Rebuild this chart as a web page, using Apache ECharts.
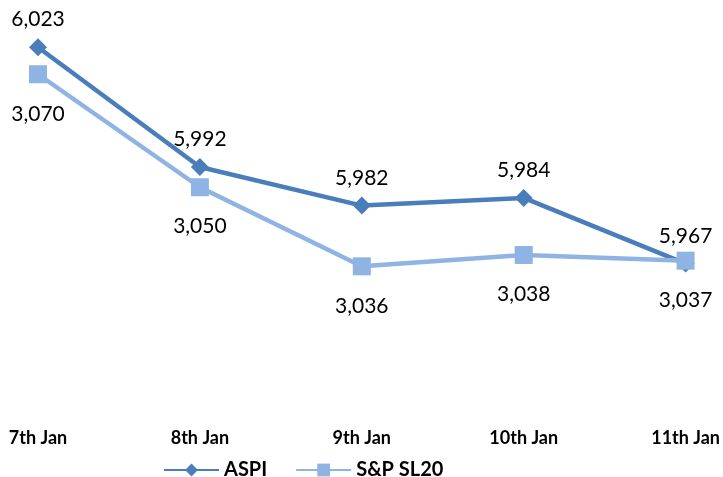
<!DOCTYPE html>
<html>
<head>
<meta charset="utf-8">
<script src="https://cdn.jsdelivr.net/npm/echarts@6/dist/echarts.min.js"></script>
<style>
  html, body { margin: 0; padding: 0; background: #fff; }
  #chart { width: 723px; height: 477px; }
</style>
</head>
<body>
<div id="chart"></div>
<script>
// Daily closing values, Colombo Stock Exchange indices
const days = ['7th Jan', '8th Jan', '9th Jan', '10th Jan', '11th Jan'];
const aspi = [6023, 5992, 5982, 5984, 5967];
const spsl20 = [3070, 3050, 3036, 3038, 3037];

const fontFamily = 'Lato, "Open Sans", sans-serif';
const fmt = p => p.value.toLocaleString('en-US');

const chart = echarts.init(document.getElementById('chart'));
chart.setOption({
  animation: false,
  backgroundColor: '#ffffff',
  grid: { left: 38, right: 35, top: 20, bottom: 57, containLabel: false },
  legend: {
    left: 158,
    top: 455,
    itemWidth: 55,
    itemHeight: 16,
    itemGap: 28,
    textStyle: { fontFamily, fontWeight: 'bold', fontSize: 20, color: '#000' },
    data: ['ASPI', 'S&P SL20']
  },
  xAxis: {
    type: 'category',
    data: days,
    boundaryGap: false,
    axisLine: { show: false },
    axisTick: { show: false },
    axisLabel: {
      margin: 9,
      fontFamily, fontWeight: 'bold', fontSize: 18, color: '#000',
      interval: 0
    }
  },
  yAxis: [
    { type: 'value', min: 5926.5, max: 6030.05, show: false, splitLine: { show: false } },
    { type: 'value', min: 3008.8, max: 3079.6, show: false, splitLine: { show: false } }
  ],
  series: [
    {
      name: 'ASPI',
      type: 'line',
      yAxisIndex: 0,
      data: aspi,
      symbol: 'diamond',
      symbolSize: 18,
      z: 3,
      lineStyle: { width: 4.5, color: '#4a7ebb' },
      itemStyle: { color: '#4a7ebb' },
      label: {
        show: true, position: 'top', distance: 8,
        formatter: fmt,
        fontFamily, fontSize: 21, color: '#000'
      }
    },
    {
      name: 'S&P SL20',
      type: 'line',
      yAxisIndex: 1,
      data: spsl20,
      symbol: 'rect',
      symbolSize: 18,
      z: 4,
      lineStyle: { width: 4.5, color: '#8fb4e3' },
      itemStyle: { color: '#8fb4e3' },
      label: {
        show: true, position: 'bottom', distance: 20,
        formatter: fmt,
        fontFamily, fontSize: 21, color: '#000'
      }
    }
  ]
});
</script>
</body>
</html>
